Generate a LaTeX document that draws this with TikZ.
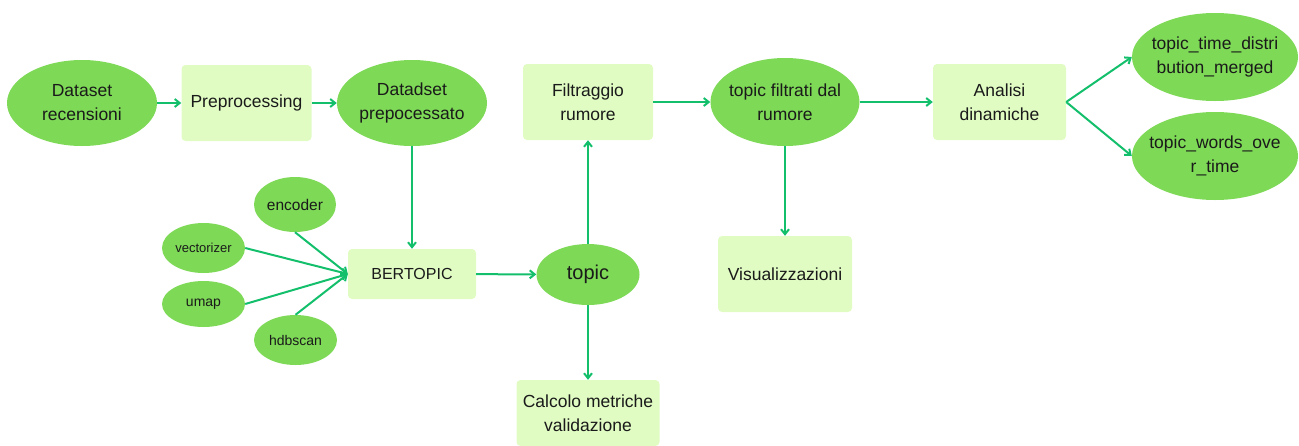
\documentclass[tikz,border=0pt]{standalone}
\usepackage{fontspec}
\setmainfont{Liberation Sans}
\usetikzlibrary{arrows.meta,shapes.geometric}
\definecolor{blobgreen}{HTML}{7ED957}
\definecolor{boxgreen}{HTML}{E0FCC3}
\definecolor{linkgreen}{HTML}{14BF6C}
\definecolor{inkdark}{HTML}{1A1A1A}
\begin{document}
\begin{tikzpicture}[x=1pt,y=-1pt,
  every node/.style={text=inkdark, align=center, font=\fontsize{17.5}{24}\selectfont},
  % negative horizontal padding so that the given minimum size fixes the ellipse
  blob/.style={ellipse, fill=blobgreen, inner xsep=-12pt, inner ysep=0pt},
  stepbox/.style={rectangle, fill=boxgreen, rounded corners=4pt, inner sep=0pt},
  link/.style={draw=linkgreen, line width=2pt, -{Straight Barb[length=5pt,width=8pt,line width=2pt]}}
]
\useasboundingbox (0,0) rectangle (1299,445);

% top row
\node[blob, minimum width=150, minimum height=86] (ds) at (82,103) {Dataset\\recensioni};
\node[stepbox, minimum width=130, minimum height=76] (pre) at (246.5,103) {Preprocessing};
\node[blob, minimum width=150, minimum height=86] (dsp) at (412,103) {Datadset\\prepocessato};
\node[stepbox, minimum width=130, minimum height=76] (filt) at (588,102) {Filtraggio\\rumore};
\node[blob, minimum width=149, minimum height=88] (tf) at (785,102) {topic filtrati dal\\rumore};
\node[stepbox, minimum width=133, minimum height=76] (dyn) at (999.5,102) {Analisi\\dinamiche};
\node[blob, minimum width=166, minimum height=88] (ttd) at (1215,57) {topic\_time\_distri\\bution\_merged};
\node[blob, minimum width=166, minimum height=88] (two) at (1215,156) {topic\_words\_ove\\r\_time};

% BERTopic components
\node[blob, minimum width=82, minimum height=55, font=\fontsize{15.5}{18}\selectfont] (enc) at (295,204.5) {encoder};
\node[blob, minimum width=83, minimum height=50, font=\fontsize{13}{16}\selectfont] (vec) at (203.5,248) {vectorizer};
\node[blob, minimum width=83, minimum height=46, font=\fontsize{14}{16}\selectfont] (um) at (203.5,304) {umap};
\node[blob, minimum width=83, minimum height=50, font=\fontsize{14}{16}\selectfont] (hdb) at (295.5,340) {hdbscan};

% middle and lower row
\node[stepbox, minimum width=128, minimum height=50, font=\fontsize{16}{20}\selectfont] (bert) at (412,274) {BERTOPIC};
\node[blob, minimum width=103, minimum height=61, font=\fontsize{20}{24}\selectfont] (tp) at (588,274.5) {topic};
\node[stepbox, minimum width=134, minimum height=76] (vis) at (785,274) {Visualizzazioni};
\node[stepbox, minimum width=143, minimum height=66] (calc) at (588,413) {Calcolo metriche\\validazione};

% connectors
\draw[link] (ds) -- (pre);
\draw[link] (pre) -- (dsp);
\draw[link] (dsp) -- (bert);
\draw[link] (enc.south) -- (bert.west);
\draw[link] (vec.east) -- (bert.west);
\draw[link] (um.east) -- (bert.west);
\draw[link] (hdb.north) -- (bert.west);
\draw[link] (bert) -- (tp);
\draw[link] (tp) -- (filt);
\draw[link] (tp) -- (calc);
\draw[link] (filt) -- (tf);
\draw[link] (tf) -- (vis);
\draw[link] (tf) -- (dyn);
\draw[link] (dyn.east) -- (ttd.west);
\draw[link] (dyn.east) -- (two.west);
\end{tikzpicture}
\end{document}
